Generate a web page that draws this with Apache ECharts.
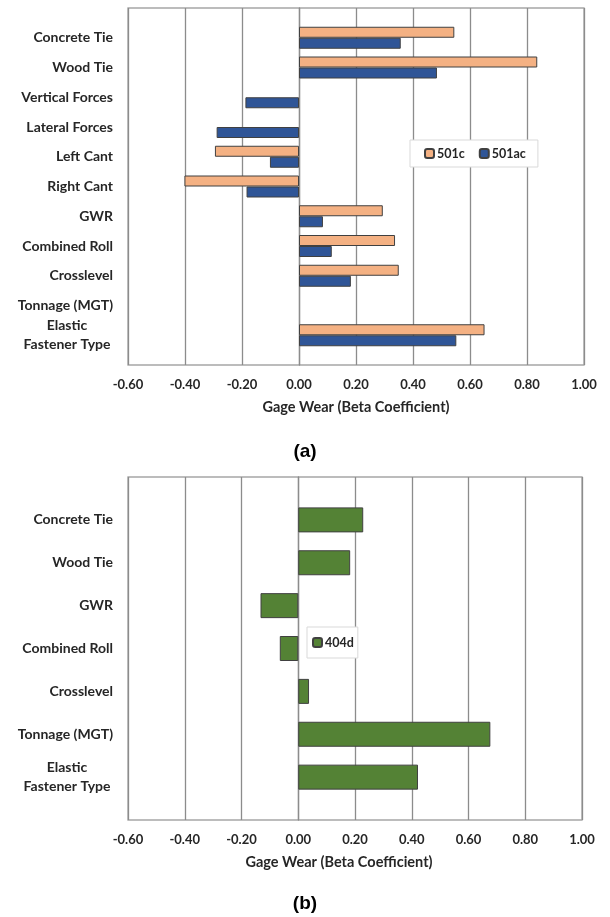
<!DOCTYPE html>
<html><head><meta charset="utf-8">
<script src="https://cdn.jsdelivr.net/npm/echarts@6/dist/echarts.min.js"></script>
<style>html,body{margin:0;padding:0;background:#fff}#c{width:610px;height:917px}</style>
</head><body><div id="c"></div>
<script>
// Chart (a)
const catsA = ['Concrete Tie','Wood Tie','Vertical Forces','Lateral Forces','Left Cant','Right Cant','GWR','Combined Roll','Crosslevel','Tonnage (MGT)','Elastic\nFastener Type'];
const s501c  = [0.545, 0.836, null, null, -0.295, -0.402, 0.294, 0.337, 0.350, null, 0.651];
const s501ac = [0.357, 0.484, -0.188, -0.289, -0.102, -0.184, 0.084, 0.115, 0.182, null, 0.552];
// Chart (b)
const catsB = ['Concrete Tie','Wood Tie','GWR','Combined Roll','Crosslevel','Tonnage (MGT)','Elastic\nFastener Type'];
const s404d = [0.229, 0.183, -0.133, -0.065, 0.038, 0.677, 0.422];
// axis
const xMin = -0.6, xMax = 1.0, xStep = 0.2;
const xName = 'Gage Wear (Beta Coefficient)';

const FONT = 'Lato';
const txt = '#262626';
function pad(arr){ return [''].concat(arr).concat(['']); }
function padV(arr){ return [null].concat(arr).concat([null]); }

function catLabel(v){
  if (v.indexOf('\n') >= 0) {
    const p = v.split('\n');
    return '{c|' + p[0] + '}\n{c|' + p[1] + '}';
  }
  return v;
}

function xAxis(gi, namePad){
  return {
    gridIndex: gi, type: 'value', min: xMin, max: xMax, interval: xStep,
    axisLine: {show: false}, axisTick: {show: false},
    axisLabel: {formatter: v => v.toFixed(2), fontFamily: FONT, fontWeight: 'bold', fontSize: 13, color: txt, margin: 13},
    splitLine: {show: true, lineStyle: {color: '#8c8c8c', width: 1.3}},
    name: xName, nameLocation: 'middle', nameGap: 35,
    nameTextStyle: {fontFamily: FONT, fontWeight: 'bold', fontSize: 14.5, color: txt, padding: namePad}
  };
}
function yAxis(gi, cats){
  return {
    gridIndex: gi, type: 'category', inverse: true, boundaryGap: false,
    data: pad(cats),
    axisLine: {show: true, lineStyle: {color: '#8c8c8c', width: 1.3}},
    axisTick: {show: false},
    splitLine: {show: false},
    axisLabel: {interval: 0, formatter: catLabel, fontFamily: FONT, fontWeight: 'bold', fontSize: 14, color: txt, margin: 15, lineHeight: 19,
      rich: {c: {fontFamily: FONT, fontWeight: 'bold', fontSize: 14, color: txt, width: 92, align: 'center', lineHeight: 19}}}
  };
}

const chart = echarts.init(document.getElementById('c'), null, {renderer: 'canvas'});
chart.setOption({
  animation: false,
  backgroundColor: '#fff',
  title: [
    {text: '(a)', left: 'center', top: 437, textStyle: {fontFamily: 'Liberation Sans', fontWeight: 'bold', fontSize: 19, color: '#000'}},
    {text: '(b)', left: 'center', top: 889, textStyle: {fontFamily: 'Liberation Sans', fontWeight: 'bold', fontSize: 19, color: '#000'}}
  ],
  grid: [
    {left: 128, top: 8, right: 26, height: 357, show: true, borderColor: '#a6a6a6', borderWidth: 1.3},
    {left: 128, top: 477, right: 28, height: 343, show: true, borderColor: '#a6a6a6', borderWidth: 1.3}
  ],
  legend: [
    {data: ['501c','501ac'], left: 410, top: 140, padding: [7, 12, 7, 14], itemGap: 14, itemWidth: 9, itemHeight: 9,
     backgroundColor: '#fff', borderColor: '#d9d9d9', borderWidth: 1,
     textStyle: {fontFamily: FONT, fontWeight: 'bold', fontSize: 12.5, color: txt, padding: [0,0,0,-2]}},
    {data: ['404d'], left: 307, top: 627, padding: [9, 4, 9, 5], itemWidth: 9, itemHeight: 9,
     backgroundColor: '#fff', borderColor: '#d9d9d9', borderWidth: 1,
     textStyle: {fontFamily: FONT, fontWeight: 'bold', fontSize: 12.5, color: txt, padding: [0,0,0,-2]}}
  ],
  xAxis: [xAxis(0, [0,0,0,0]), xAxis(1, [0,32,0,0])],
  yAxis: [yAxis(0, catsA), yAxis(1, catsB)],
  series: [
    {name: '501c', type: 'bar', xAxisIndex: 0, yAxisIndex: 0, data: padV(s501c), barWidth: 11, barGap: '0%',
     itemStyle: {color: '#F4B183', borderColor: '#404040', borderWidth: 1}},
    {name: '501ac', type: 'bar', xAxisIndex: 0, yAxisIndex: 0, data: padV(s501ac), barWidth: 11, barGap: '0%',
     itemStyle: {color: '#2F5597', borderColor: '#404040', borderWidth: 1}},
    {name: '404d', type: 'bar', xAxisIndex: 1, yAxisIndex: 1, data: padV(s404d), barWidth: 25,
     itemStyle: {color: '#548235', borderColor: '#404040', borderWidth: 1}}
  ]
});
</script></body></html>
